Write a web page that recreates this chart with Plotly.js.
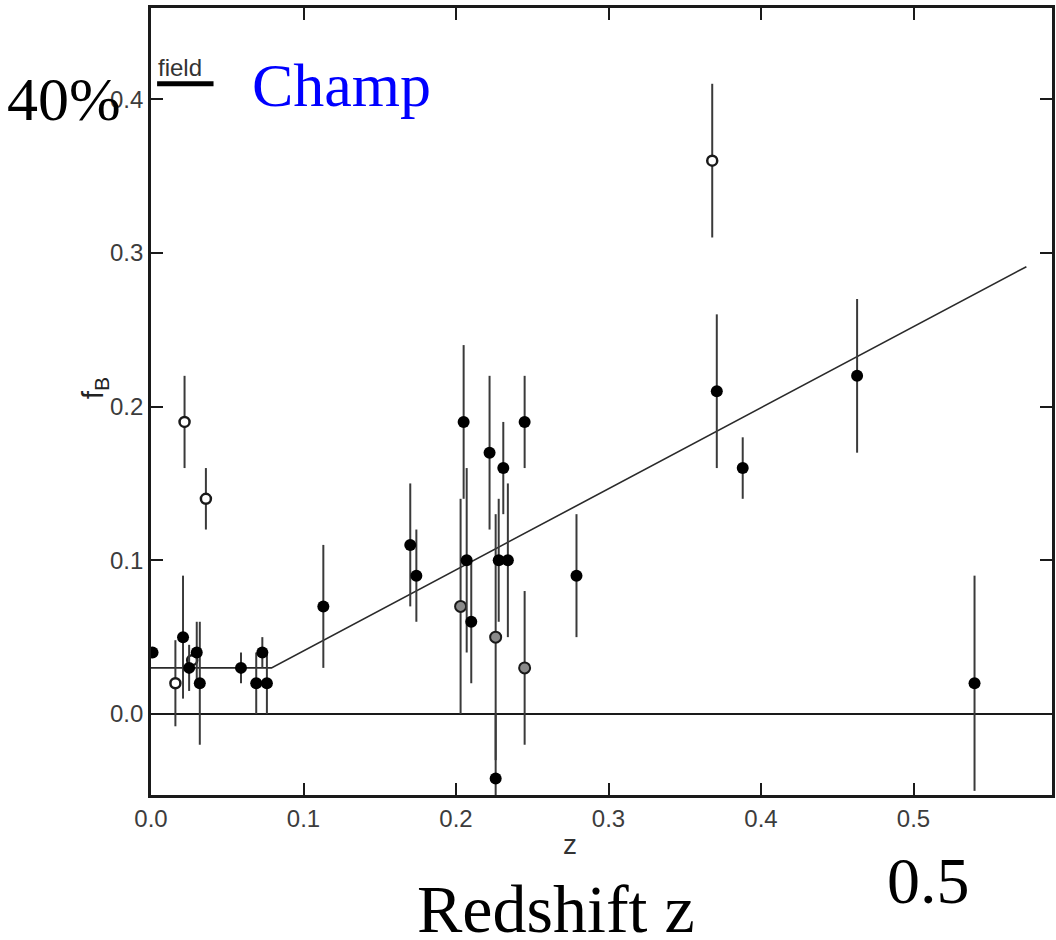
<!DOCTYPE html>
<html>
<head>
<meta charset="utf-8">
<script src="https://cdn.plot.ly/plotly-3.0.1.min.js"></script>
<style>html,body{margin:0;padding:0;background:#fff;}#chart{width:1056px;height:940px;}</style>
</head>
<body>
<div id="chart"></div>
<script>
// Filled circles (clusters)
const filledZ   = [0.001, 0.021, 0.025, 0.030, 0.032, 0.059, 0.069, 0.073, 0.076, 0.113, 0.170, 0.174, 0.205, 0.207, 0.210, 0.222, 0.226, 0.228, 0.231, 0.234, 0.245, 0.279, 0.371, 0.388, 0.463, 0.540];
const filledF   = [0.040, 0.050, 0.030, 0.040, 0.020, 0.030, 0.020, 0.040, 0.020, 0.070, 0.110, 0.090, 0.190, 0.100, 0.060, 0.170, -0.042, 0.100, 0.160, 0.100, 0.190, 0.090, 0.210, 0.160, 0.220, 0.020];
const filledErr = [0.000, 0.040, 0.015, 0.020, 0.040, 0.010, 0.020, 0.010, 0.020, 0.040, 0.040, 0.030, 0.050, 0.060, 0.040, 0.050, 0.042, 0.040, 0.030, 0.050, 0.030, 0.040, 0.050, 0.020, 0.050, 0.070];
// Open circles
const openZ   = [0.016, 0.022, 0.027, 0.036, 0.368];
const openF   = [0.020, 0.190, 0.035, 0.140, 0.360];
const openErr = [0.028, 0.030, 0.000, 0.020, 0.050];
// Grey (half-filled) circles
const greyZ   = [0.203, 0.226, 0.245];
const greyF   = [0.070, 0.050, 0.030];
const greyErr = [0.070, 0.080, 0.050];
// Fitted relation
const fitZ = [0.0, 0.079, 0.574];
const fitF = [0.030, 0.030, 0.291];
// Field level marker
const fieldZ = [0.004, 0.041];
const fieldF = [0.41, 0.41];
// Ticks
const xTicks = [0.0, 0.1, 0.2, 0.3, 0.4, 0.5];
const xTickText = ["0.0", "0.1", "0.2", "0.3", "0.4", "0.5"];
const yTicks = [0.0, 0.1, 0.2, 0.3, 0.4];
const yTickText = ["0.0", "0.1", "0.2", "0.3", "0.4"];

const ink = '#1a1a1a';
const errStyle = (arr) => ({type: 'data', array: arr, visible: true, color: '#3a3a3a', thickness: 2, width: 0});

const traces = [
  {x: fitZ, y: fitF, mode: 'lines', line: {color: '#2a2a2a', width: 1.6}, hoverinfo: 'skip', showlegend: false},
  {x: fieldZ, y: fieldF, mode: 'lines', line: {color: '#000', width: 5}, hoverinfo: 'skip', showlegend: false},
  {x: greyZ, y: greyF, mode: 'markers', error_y: errStyle(greyErr),
   marker: {symbol: 'circle', size: 11, color: '#8a8a8a', line: {color: ink, width: 2}}, showlegend: false},
  {x: openZ, y: openF, mode: 'markers', error_y: errStyle(openErr),
   marker: {symbol: 'circle', size: 10, color: '#ffffff', line: {color: ink, width: 2.5}}, showlegend: false},
  {x: filledZ, y: filledF, mode: 'markers', error_y: errStyle(filledErr),
   marker: {symbol: 'circle', size: 12, color: '#000', line: {width: 0}}, showlegend: false}
];

const axisCommon = {
  ticks: 'inside', ticklen: 12, tickwidth: 2, tickcolor: ink,
  showline: true, linewidth: 2.8, linecolor: ink, mirror: 'ticks',
  showgrid: false,
  tickfont: {family: 'Liberation Sans, Arial, sans-serif', size: 24, color: '#3c3c3c'}
};

const layout = {
  width: 1056, height: 940,
  margin: {l: 151, r: 4, t: 8, b: 145},
  paper_bgcolor: '#fff', plot_bgcolor: '#fff',
  showlegend: false,
  xaxis: Object.assign({}, axisCommon, {
    range: [0, 0.5908], tickvals: xTicks, ticktext: xTickText, zeroline: false
  }),
  yaxis: Object.assign({}, axisCommon, {
    range: [-0.0527, 0.4593], tickvals: yTicks, ticktext: yTickText,
    zeroline: true, zerolinecolor: ink, zerolinewidth: 2
  }),
  annotations: [
    {text: 'f<sub>B</sub>', xref: 'paper', yref: 'paper', x: -0.063, y: 0.517, xanchor: 'center', yanchor: 'middle',
     textangle: -90, showarrow: false,
     font: {family: 'Liberation Sans, Arial, sans-serif', size: 30, color: '#222'}},
    {text: 'z', xref: 'paper', yref: 'paper', x: 0.465, y: -0.0635, xanchor: 'center', yanchor: 'middle', showarrow: false,
     font: {family: 'Liberation Sans, Arial, sans-serif', size: 28, color: '#333'}},
    {text: 'field', xref: 'paper', yref: 'paper', x: 0.005, y: 0.924, xanchor: 'left', yanchor: 'middle', showarrow: false,
     font: {family: 'Liberation Sans, Arial, sans-serif', size: 24, color: '#333'}},
    {text: '40%', xref: 'paper', yref: 'paper', x: -0.162, y: 0.884, xanchor: 'left', yanchor: 'middle', showarrow: false,
     font: {family: 'Liberation Serif, Times New Roman, serif', size: 62, color: '#000'}},
    {text: 'Champ', xref: 'paper', yref: 'paper', x: 0.110, y: 0.902, xanchor: 'left', yanchor: 'middle', showarrow: false,
     font: {family: 'Liberation Serif, Times New Roman, serif', size: 62, color: '#0000ff'}},
    {text: '0.5', xref: 'paper', yref: 'paper', x: 0.815, y: -0.109, xanchor: 'left', yanchor: 'middle', showarrow: false,
     font: {family: 'Liberation Serif, Times New Roman, serif', size: 66, color: '#000'}},
    {text: 'Redshift z', xref: 'paper', yref: 'paper', x: 0.293, y: -0.145, xanchor: 'left', yanchor: 'middle', showarrow: false,
     font: {family: 'Liberation Serif, Times New Roman, serif', size: 68, color: '#000'}}
  ]
};

Plotly.newPlot('chart', traces, layout, {displayModeBar: false, staticPlot: true});
</script>
</body>
</html>
